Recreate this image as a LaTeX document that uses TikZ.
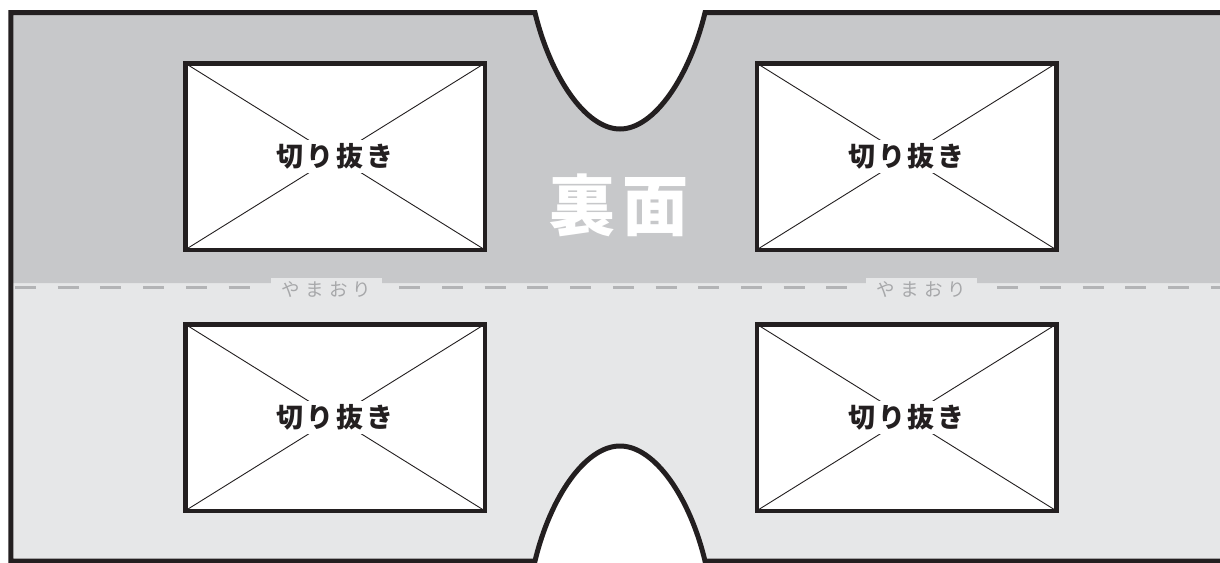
\documentclass[tikz,border=0pt]{standalone}
\usepackage{fontspec}
\newfontfamily\jpcut{Noto Sans CJK JP}[LetterSpace=10]
\newfontfamily\jpfold{Noto Sans CJK JP}[LetterSpace=28]
\newfontfamily\jpback{Noto Sans CJK JP}[LetterSpace=12]
\newcommand\cutfont{\jpcut\bfseries\fontsize{27pt}{30pt}\selectfont}
\newcommand\foldfont{\jpfold\fontsize{18.5pt}{22pt}\selectfont}
\newcommand\backfont{\jpback\bfseries\fontsize{66pt}{72pt}\selectfont}
\definecolor{bgtop}{HTML}{C7C8CA}
\definecolor{bglow}{HTML}{E6E7E8}
\definecolor{edge}{HTML}{231F20}
\definecolor{foldgray}{HTML}{B3B4B6}
\definecolor{foldtext}{HTML}{A7A8AA}
\begin{document}
\begin{tikzpicture}[x=1pt,y=-1pt,
    sheetedge/.style={draw=edge,line width=5pt},
    foldline/.style={draw=foldgray,line width=3pt,dash pattern=on 21pt off 21.7pt},
    cutbox/.style={draw=edge,line width=4.5pt,fill=white,minimum width=299.5pt,
      minimum height=186.5pt,outer sep=0pt,inner sep=0pt},
    crossline/.style={draw=edge,line width=0.9pt},
    cutlabel/.style={fill=white,inner sep=4pt,font=\cutfont,text=edge},
    foldlabel/.style={fill=bglow,text=foldtext,minimum width=111pt,minimum height=23pt,
      inner sep=0pt,anchor=north,font=\foldfont}]
  \useasboundingbox (0,0) rectangle (1220,562);
  % sheet
  \fill[bglow] (10.8,12.7) -- (535,12.7)
    .. controls (550,75) and (585,129) .. (620,129)
    .. controls (655,129) and (690,75) .. (705,12.7)
    -- (1230,12.7) -- (1230,561) -- (705,561)
    .. controls (690,498) and (655,446) .. (620,446)
    .. controls (585,446) and (550,498) .. (535,561)
    -- (10.8,561) -- cycle;
  \fill[bgtop] (10.8,12.7) -- (535,12.7)
    .. controls (550,75) and (585,129) .. (620,129)
    .. controls (655,129) and (690,75) .. (705,12.7)
    -- (1230,12.7) -- (1230,283) -- (10.8,283) -- cycle;
  \draw[sheetedge] (1230,12.7) -- (705,12.7)
    .. controls (690,75) and (655,129) .. (620,129)
    .. controls (585,129) and (550,75) .. (535,12.7)
    -- (10.8,12.7) -- (10.8,561) -- (535,561)
    .. controls (550,498) and (585,446) .. (620,446)
    .. controls (655,446) and (690,498) .. (705,561)
    -- (1230,561);
  % fold
  \draw[foldline] (15,287.5) -- (1220,287.5);
  \node[foldlabel] (fold1) at (326.5,277.5) {やまおり};
  \node[foldlabel] (fold2) at (921.5,277.5) {やまおり};
  \node[font=\backfont,text=white] (back) at (619,205) {裏面};
  % windows
  \node[cutbox] (cutA) at (335,156.5) {};
  \node[cutbox] (cutB) at (906.5,156.5) {};
  \node[cutbox] (cutC) at (335,417.5) {};
  \node[cutbox] (cutD) at (906.5,417.5) {};
  \foreach \b in {cutA,cutB,cutC,cutD} {
    \draw[crossline] (\b.north west) -- (\b.south east)
      (\b.south west) -- (\b.north east);
    \node[cutlabel] (\b-text) at (\b.center) {切り抜き};
  }
\end{tikzpicture}
\end{document}
